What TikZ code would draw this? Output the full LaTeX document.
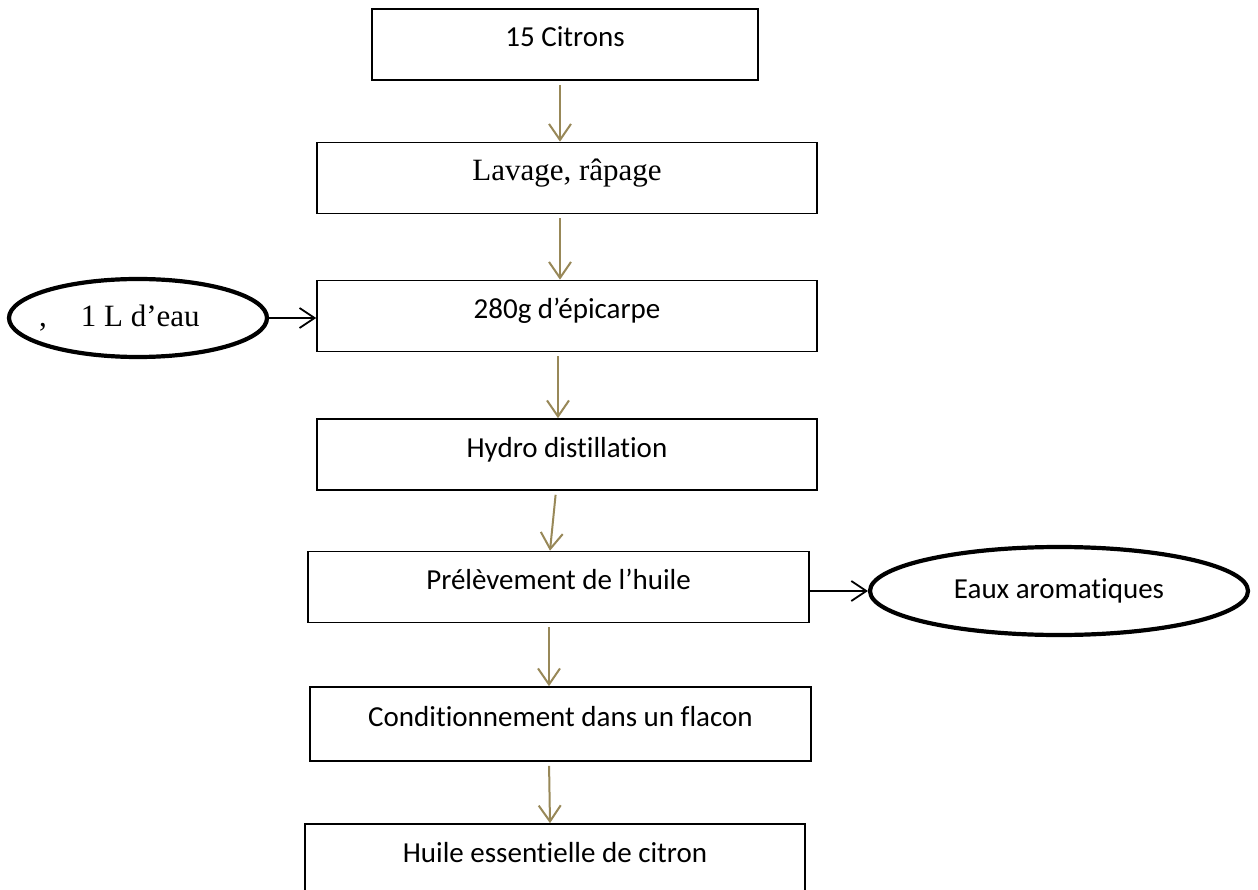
\documentclass[tikz,border=0pt]{standalone}
\usepackage{fontspec}
\setmainfont{Carlito}[Ligatures=NoCommon]
\newfontfamily\timesf{Liberation Serif}
\usetikzlibrary{arrows.meta,shapes.geometric}
\definecolor{arrowolive}{RGB}{152,136,88}
\begin{document}
\begin{tikzpicture}[x=1pt,y=-1pt,
  stepbox/.style={draw, line width=1.6pt, rectangle, inner sep=0pt,
    minimum height=71pt, font=\fontsize{29}{34}\selectfont,
    text height=20pt, text depth=15pt},
  serifbox/.style={stepbox, font=\timesf\fontsize{31}{36}\selectfont},
  sideell/.style={draw, line width=4.2pt, ellipse, inner sep=0pt},
  flowarrow/.style={draw=arrowolive, line width=2pt, shorten <=4pt,
    -{Straight Barb[length=16pt,width=22pt]}},
  sidearrow/.style={draw=black, line width=1.8pt,
    -{Straight Barb[length=15pt,width=20pt]}}]
\useasboundingbox (0,0) rectangle (1258,890);

\node[stepbox, minimum width=386pt] (b1) at (565,44.5) {15 Citrons};
\node[serifbox, minimum width=500pt] (b2) at (567,178) {Lavage, râpage};
\node[stepbox, minimum width=500pt] (b3) at (567,316) {280g d’épicarpe};
\node[stepbox, minimum width=500pt] (b4) at (567,454.5) {Hydro distillation};
\node[stepbox, minimum width=501pt] (b5) at (558.5,587) {Prélèvement de l’huile};
\node[stepbox, minimum width=501pt, minimum height=74pt] (b6) at (560.5,724) {Conditionnement dans un flacon};
\node[stepbox, minimum width=500pt] (b7) at (555,859.5) {Huile essentielle de citron};

\node[sideell, minimum width=258pt, minimum height=78pt] (e1) at (138,318) {};
\node[anchor=west, font=\timesf\fontsize{31}{36}\selectfont, inner sep=0pt] (t1) at (39,318) {,\hspace{34pt}1 L d’eau};
\node[sideell, minimum width=378pt, minimum height=88pt, font=\fontsize{29}{34}\selectfont] (e2) at (1059,591) {Eaux aromatiques};

\draw[flowarrow] ([xshift=-5pt]b1.south) -- ([xshift=-7pt]b2.north);
\draw[flowarrow] ([xshift=-7pt]b2.south) -- ([xshift=-7pt]b3.north);
\draw[flowarrow] ([xshift=-9pt]b3.south) -- ([xshift=-9pt]b4.north);
\draw[flowarrow] ([xshift=-11pt]b4.south) -- ([xshift=-8.5pt]b5.north);
\draw[flowarrow] ([xshift=-9.5pt]b5.south) -- ([xshift=-11.5pt]b6.north);
\draw[flowarrow] ([xshift=-11.5pt]b6.south) -- ([xshift=-5pt]b7.north);

\draw[sidearrow] (e1.east) -- (b3.west |- e1.east);
\draw[sidearrow] (b5.east |- e2.west) -- (e2.west);
\end{tikzpicture}
\end{document}
